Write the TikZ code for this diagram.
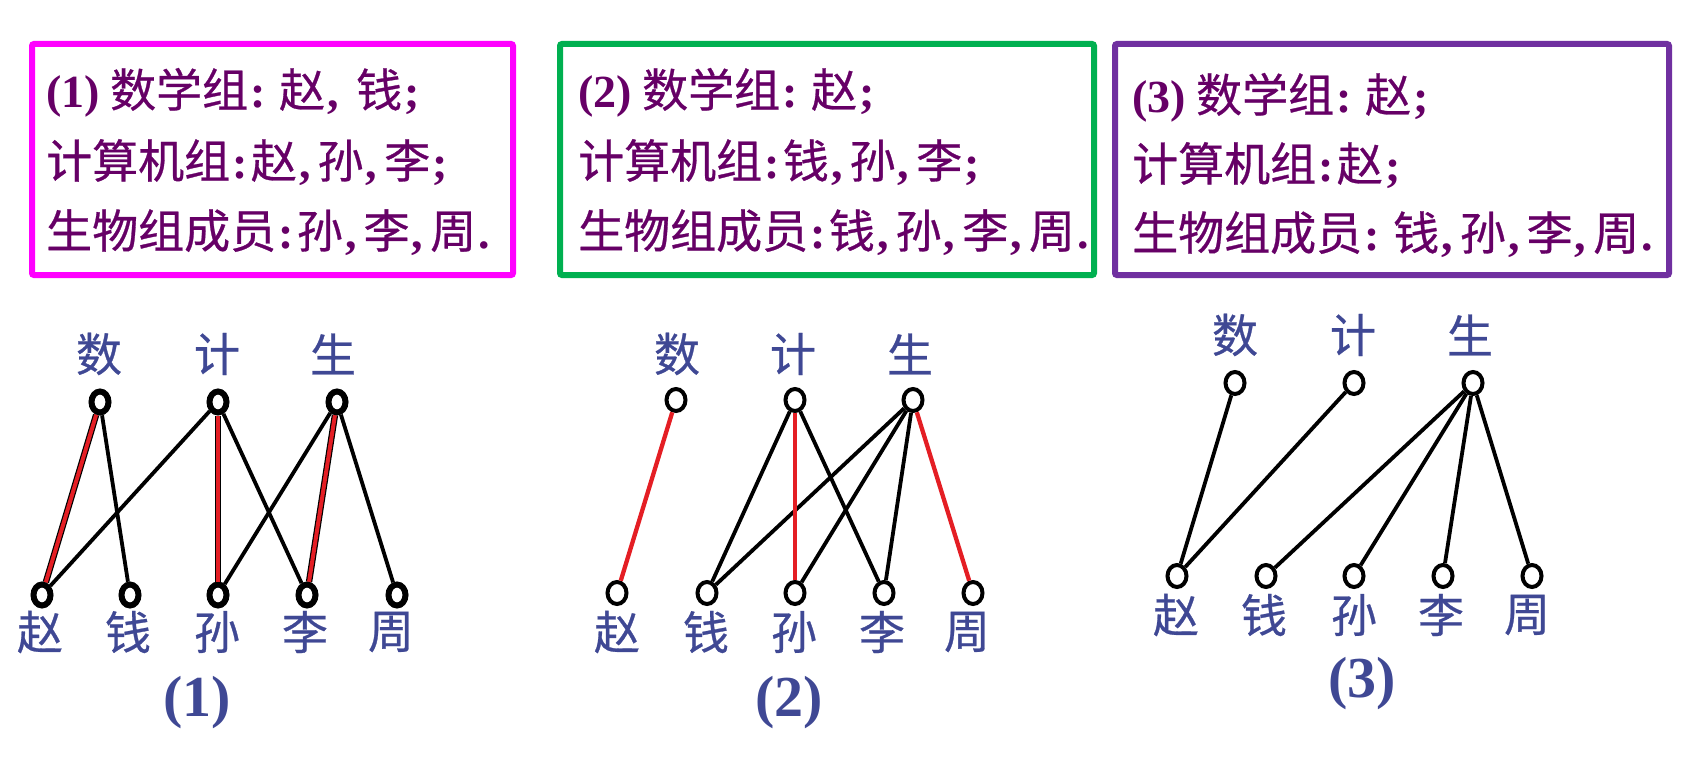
\documentclass[tikz,border=0pt]{standalone}
\usepackage{fontspec}
\setmainfont{Liberation Serif}
\newfontfamily\cjk[FakeBold=0.6]{Noto Sans CJK SC}
\usetikzlibrary{shapes.geometric}
\definecolor{txtpurple}{RGB}{102,0,102}
\definecolor{boxmag}{RGB}{255,0,255}
\definecolor{boxgreen}{RGB}{0,176,80}
\definecolor{boxpurple}{RGB}{112,48,160}
\definecolor{lblblue}{RGB}{63,72,148}
\definecolor{edgered}{RGB}{228,30,36}
\newcommand{\pu}[1]{\makebox[0.45em][l]{\hspace{0.05em}\rmfamily\bfseries #1}}
\newcommand{\grp}[1]{{\rmfamily\bfseries (#1)}}
\tikzset{
  infobox/.style={line width=6pt, rounded corners=2pt},
  boxline/.style={anchor=base west, inner sep=0pt, text=txtpurple,
    font=\cjk\fontsize{46}{54}\selectfont},
  lbl/.style={inner sep=0pt, text=lblblue, font=\cjk\fontsize{46}{54}\selectfont},
  captxt/.style={inner sep=0pt, text=lblblue, font=\rmfamily\bfseries\fontsize{58}{68}\selectfont},
  vtxa/.style={ellipse, draw=black, line width=6pt, fill=white,
    minimum width=17pt, minimum height=21pt, inner sep=0pt},
  vtxb/.style={ellipse, draw=black, line width=4pt, fill=white,
    minimum width=19pt, minimum height=22pt, inner sep=0pt},
  blk/.style={draw=black, line width=3.8pt},
  redb/.style={draw=black, line width=1.2pt, double=edgered, double distance=4pt},
  redln/.style={draw=edgered, line width=4.3pt}
}
\begin{document}
\begin{tikzpicture}[x=1pt,y=-1pt]
\useasboundingbox (0,0) rectangle (1695,760);
% ---- boxes ----
\draw[infobox, draw=boxmag] (32,44) rectangle (513,275);
\draw[infobox, draw=boxgreen] (560,44) rectangle (1094,275);
\draw[infobox, draw=boxpurple] (1115,44) rectangle (1669,275);
\node[boxline] (a1) at (46,107) {\grp{1} 数学组\pu{:} 赵\pu{,} 钱\pu{;}};
\node[boxline] (a2) at (46,178) {计算机组\pu{:}赵\pu{,}孙\pu{,}李\pu{;}};
\node[boxline] (a3) at (46,248) {生物组成员\pu{:}孙\pu{,}李\pu{,}周\pu{.}};
\node[boxline] (b1) at (578,107) {\grp{2} 数学组\pu{:} 赵\pu{;}};
\node[boxline] (b2) at (578,178) {计算机组\pu{:}钱\pu{,}孙\pu{,}李\pu{;}};
\node[boxline] (b3) at (578,248) {生物组成员\pu{:}钱\pu{,}孙\pu{,}李\pu{,}周\pu{.}};
\node[boxline] (c1) at (1132,112) {\grp{3} 数学组\pu{:} 赵\pu{;}};
\node[boxline] (c2) at (1132,181) {计算机组\pu{:}赵\pu{;}};
\node[boxline] (c3) at (1132,250) {生物组成员\pu{:} 钱\pu{,}孙\pu{,}李\pu{,}周\pu{.}};
% ---- graph 1 ----
\node[lbl] (p1s) at (99,354) {数};
\node[lbl] (p1j) at (217,354) {计};
\node[lbl] (p1g) at (333,354) {生};
\node[vtxa] (u1s) at (100,402) {};
\node[vtxa] (u1j) at (218,402) {};
\node[vtxa] (u1g) at (337,402) {};
\node[vtxa] (v1z) at (42,595) {};
\node[vtxa] (v1q) at (130,595) {};
\node[vtxa] (v1n) at (218,595) {};
\node[vtxa] (v1l) at (307,595) {};
\node[vtxa] (v1h) at (397,595) {};
\node[lbl] (q1z) at (40,632) {赵};
\node[lbl] (q1q) at (128,632) {钱};
\node[lbl] (q1n) at (217,632) {孙};
\node[lbl] (q1l) at (305,632) {李};
\node[lbl] (q1h) at (391,632) {周};
\node[captxt] (k1) at (197,703) {(1)};
\draw[blk] (u1s) -- (v1q);
\draw[blk] (u1j) -- (v1z);
\draw[blk] (u1j) -- (v1l);
\draw[blk] (u1g) -- (v1n);
\draw[blk] (u1g) -- (v1h);
\draw[redb] (u1s) -- (v1z);
\draw[redb] (u1j) -- (v1n);
\draw[redb] (u1g) -- (v1l);
% ---- graph 2 ----
\node[lbl] (p2s) at (677,354) {数};
\node[lbl] (p2j) at (793,354) {计};
\node[lbl] (p2g) at (910,354) {生};
\node[vtxb] (u2s) at (676,400) {};
\node[vtxb] (u2j) at (795,400) {};
\node[vtxb] (u2g) at (913,400) {};
\node[vtxb] (v2z) at (617,593) {};
\node[vtxb] (v2q) at (707,593) {};
\node[vtxb] (v2n) at (795,593) {};
\node[vtxb] (v2l) at (884,593) {};
\node[vtxb] (v2h) at (973,593) {};
\node[lbl] (q2z) at (617,632) {赵};
\node[lbl] (q2q) at (706,632) {钱};
\node[lbl] (q2n) at (794,632) {孙};
\node[lbl] (q2l) at (882,632) {李};
\node[lbl] (q2h) at (967,632) {周};
\node[captxt] (k2) at (789,703) {(2)};
\draw[blk] (u2j) -- (v2q);
\draw[blk] (u2j) -- (v2l);
\draw[blk] (u2g) -- (v2q);
\draw[blk] (u2g) -- (v2n);
\draw[blk] (u2g) -- (v2l);
\draw[redln] (u2s) -- (v2z);
\draw[redln] (u2j) -- (v2n);
\draw[redln] (u2g) -- (v2h);
% ---- graph 3 ----
\node[lbl] (p3s) at (1235,335) {数};
\node[lbl] (p3j) at (1353,335) {计};
\node[lbl] (p3g) at (1470,335) {生};
\node[vtxb] (u3s) at (1235,383) {};
\node[vtxb] (u3j) at (1354,383) {};
\node[vtxb] (u3g) at (1473,383) {};
\node[vtxb] (v3z) at (1177,576) {};
\node[vtxb] (v3q) at (1266,576) {};
\node[vtxb] (v3n) at (1354,576) {};
\node[vtxb] (v3l) at (1443,576) {};
\node[vtxb] (v3h) at (1532,576) {};
\node[lbl] (q3z) at (1176,615) {赵};
\node[lbl] (q3q) at (1264,615) {钱};
\node[lbl] (q3n) at (1354,615) {孙};
\node[lbl] (q3l) at (1441,615) {李};
\node[lbl] (q3h) at (1527,615) {周};
\node[captxt] (k3) at (1362,684) {(3)};
\draw[blk] (u3s) -- (v3z);
\draw[blk] (u3j) -- (v3z);
\draw[blk] (u3g) -- (v3q);
\draw[blk] (u3g) -- (v3n);
\draw[blk] (u3g) -- (v3l);
\draw[blk] (u3g) -- (v3h);
\end{tikzpicture}
\end{document}
